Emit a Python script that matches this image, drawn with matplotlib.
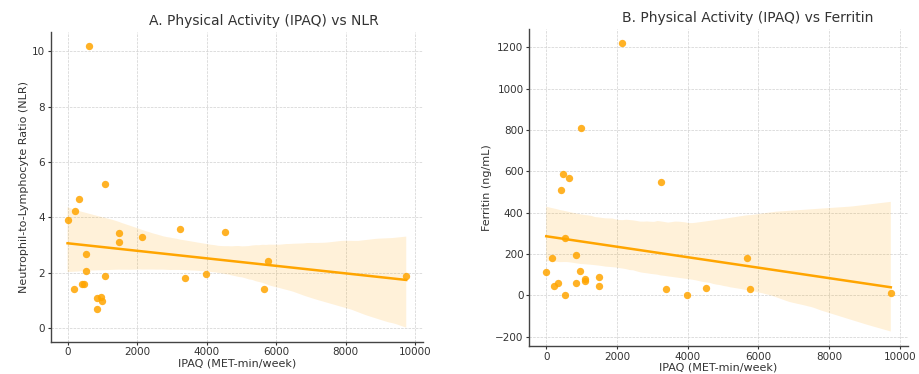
import matplotlib
matplotlib.use("Agg")
import matplotlib.pyplot as plt
import seaborn as sns
import numpy as np

# IPAQ (MET-min/week) for each participant
ipaq = [0, 175, 225, 340, 420, 480, 540, 540, 630, 850, 850, 965, 995,
        1090, 1090, 1480, 1480, 2130, 3240, 3385, 3985, 4530, 5665, 5775, 9745]
nlr = [3.9, 1.4, 4.25, 4.68, 1.59, 1.58, 2.68, 2.08, 10.2, 1.09, 0.70, 1.14, 0.97,
       1.87, 5.2, 3.42, 3.12, 3.31, 3.58, 1.82, 1.96, 3.49, 1.41, 2.44, 1.90]
ferritin = [113, 180, 45, 58, 508, 588, 278, 2, 568, 193, 60, 115, 811,
            79, 70, 86, 47, 1220, 550, 29, 2, 37, 178, 31, 10]

panels = [
    ("A. Physical Activity (IPAQ) vs NLR", nlr, "Neutrophil-to-Lymphocyte Ratio (NLR)", 0.573, 7),
    ("B. Physical Activity (IPAQ) vs Ferritin", ferritin, "Ferritin (ng/mL)", 0.577, 3),
]

plt.rcParams['font.family'] = ['DejaVu Sans']
fig = plt.figure(figsize=(9.2, 3.74), dpi=100)
boxes = [[0.055, 0.086, 0.405, 0.829], [0.575, 0.075, 0.412, 0.848]]

for box, (title, y, ylabel, tx, seed) in zip(boxes, panels):
    ax = fig.add_axes(box)
    sns.regplot(x=np.array(ipaq), y=np.array(y), ax=ax, color="orange", seed=seed,
                scatter_kws={"s": 28, "alpha": 0.85, "linewidths": 0},
                line_kws={"linewidth": 1.8})
    ax.set_title(title, fontsize=10, color="#333333", x=tx, pad=5)
    ax.set_xlabel("IPAQ (MET-min/week)", fontsize=8, color="#333333", labelpad=1)
    ax.set_ylabel(ylabel, fontsize=8, color="#333333", labelpad=2)
    ax.tick_params(labelsize=7.5, colors="#333333", length=2.5, width=0.8, pad=1.5)
    ax.grid(True, linestyle="--", linewidth=0.5, color="#d0d0d0")
    ax.set_axisbelow(True)
    for s in ["top", "right"]:
        ax.spines[s].set_visible(False)
    for s in ["left", "bottom"]:
        ax.spines[s].set_color("#444444")
        ax.spines[s].set_linewidth(1.0)

fig.savefig("out.png", dpi=100)
